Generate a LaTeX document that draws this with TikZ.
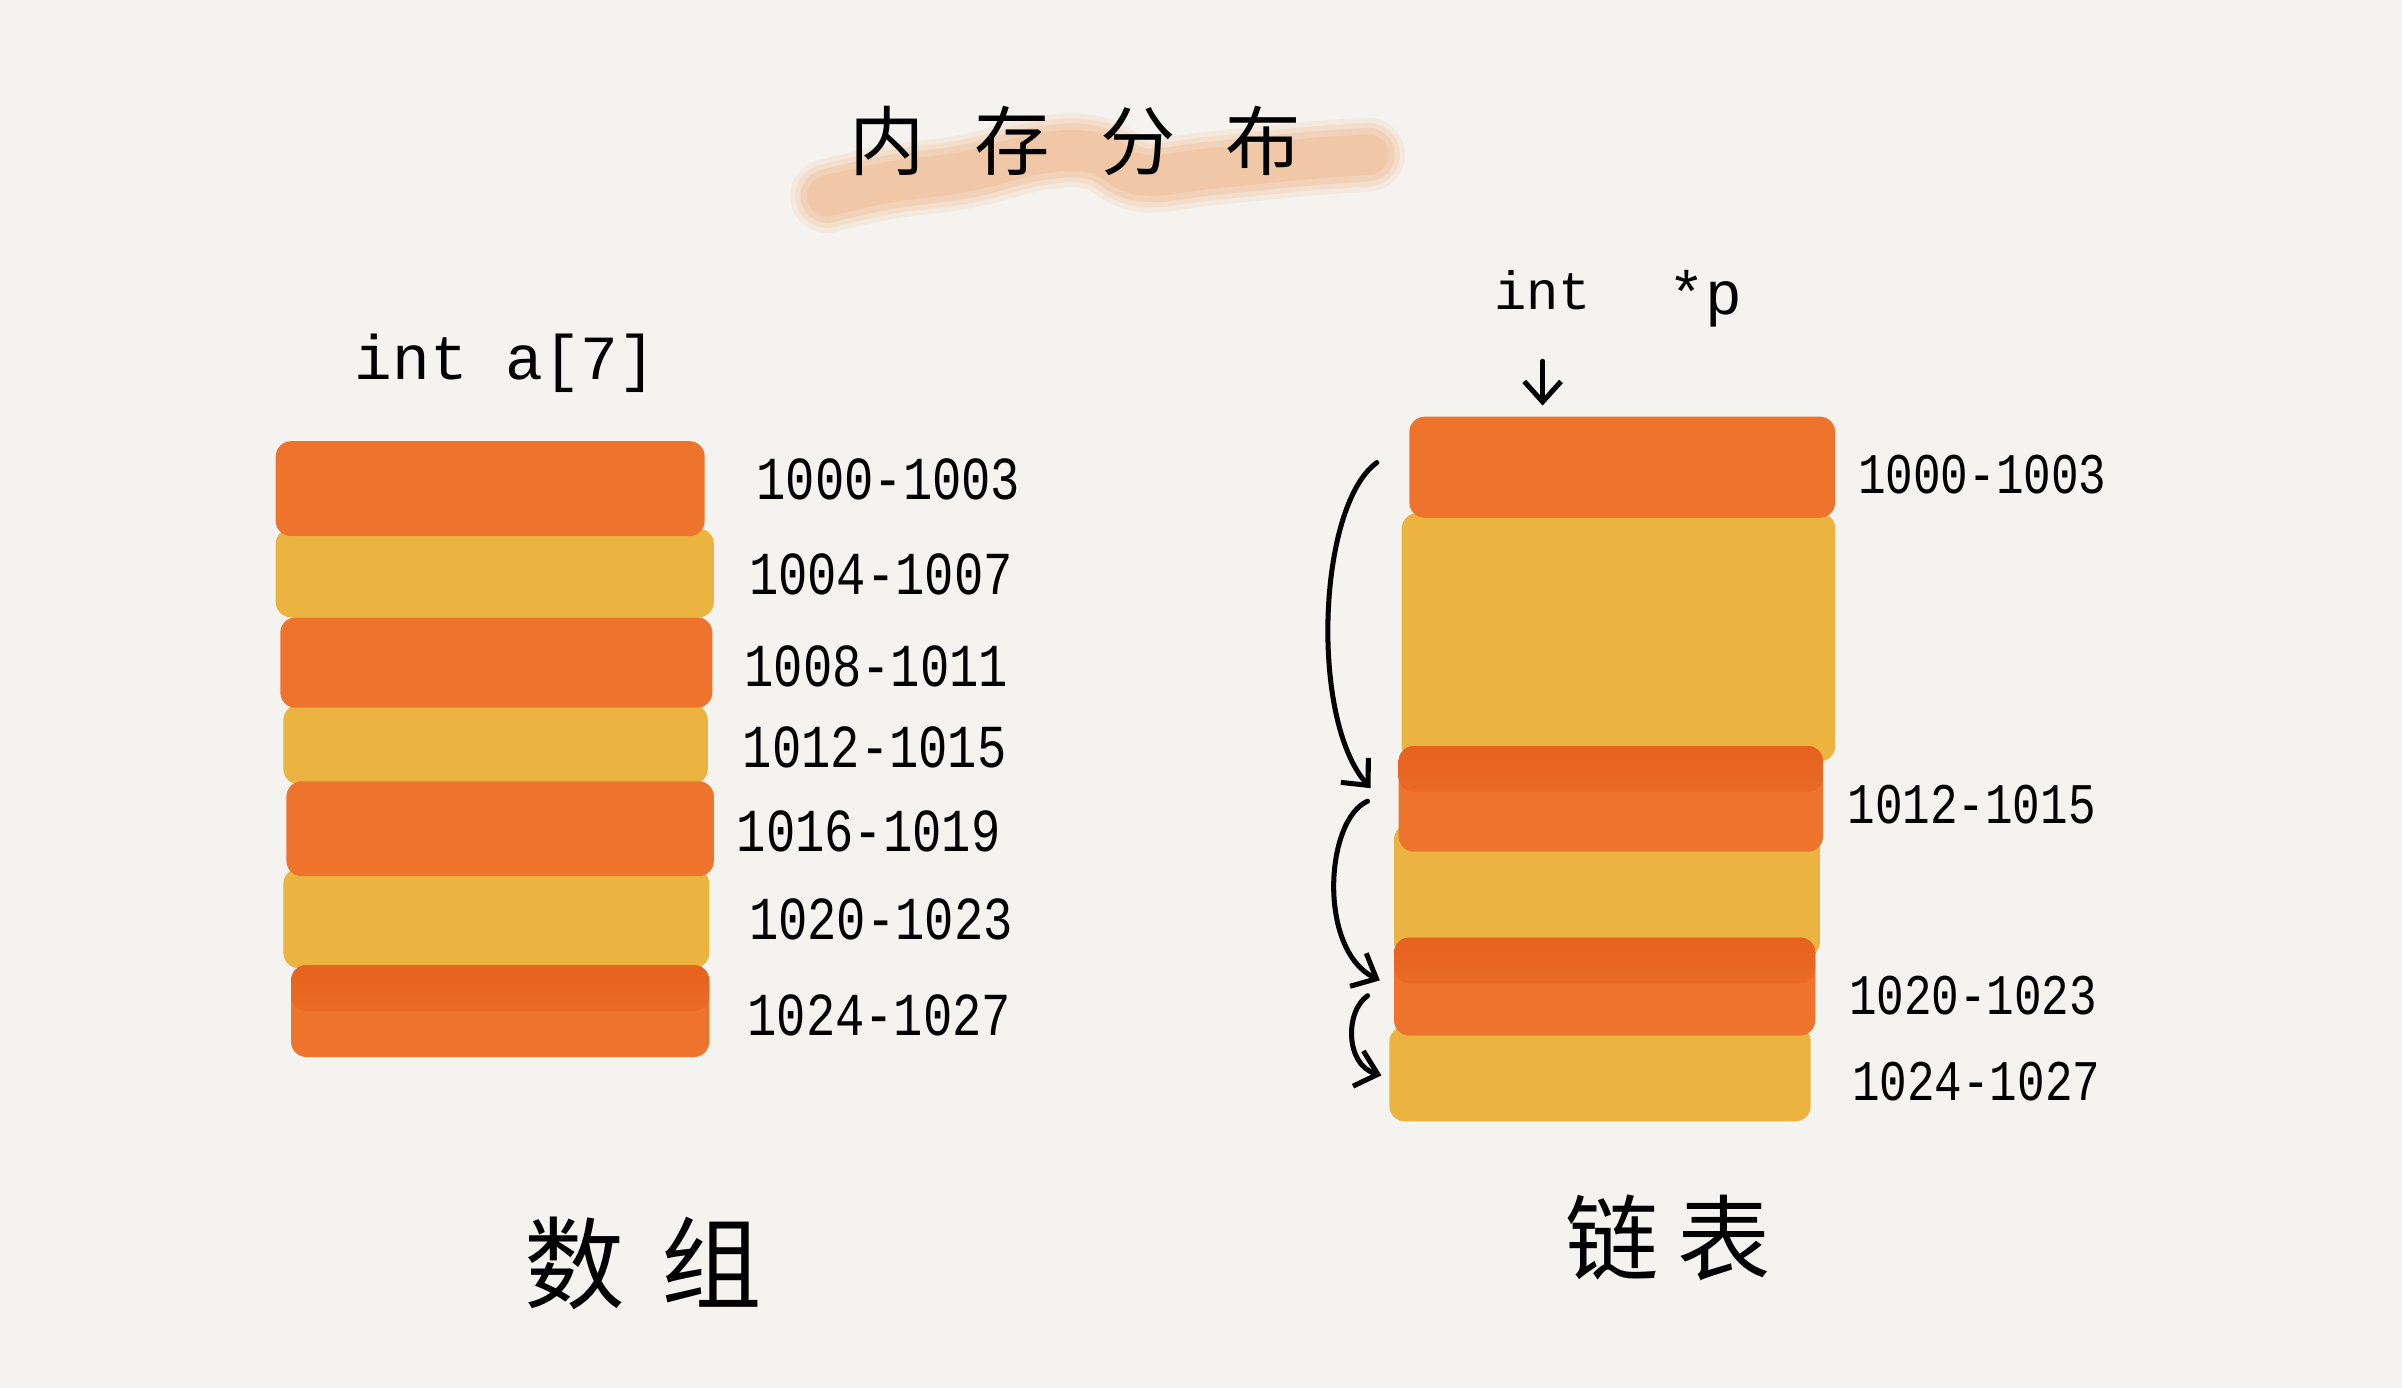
\documentclass[tikz,border=0pt]{standalone}
\usepackage{fontspec}
\usetikzlibrary{arrows.meta}
\newfontfamily\cjk{Noto Sans CJK SC}
\newfontfamily\hand[FakeStretch=0.8]{Liberation Mono}
\newfontfamily\handn{Liberation Mono}
\definecolor{bg}{HTML}{F5F3EF}
\definecolor{orbar}{HTML}{EE732D}
\definecolor{yebar}{HTML}{EBB441}
\definecolor{ordark}{HTML}{E6621F}
\definecolor{peach}{HTML}{F0BE96}
\begin{document}
\begin{tikzpicture}[x=0.03cm, y=-0.03cm,
  bar/.style={rectangle, rounded corners=0.3cm, inner sep=0pt},
  obar/.style={bar, fill=orbar},
  ybar/.style={bar, fill=yebar},
  topshade/.style={path picture={\shade[top color=ordark, bottom color=orbar]
      (path picture bounding box.north west) rectangle ([yshift=-0.9cm]path picture bounding box.north east);}},
  addrl/.style={font=\hand\fontsize{34}{36}\selectfont, inner sep=0pt},
  addrr/.style={font=\hand\fontsize{32}{34}\selectfont, inner sep=0pt},
  code/.style={font=\handn\fontsize{35}{38}\selectfont, inner sep=0pt, anchor=base},
  title/.style={font=\cjk\fontsize{42}{46}\selectfont, inner sep=0pt},
  caption/.style={font=\cjk\fontsize{56}{60}\selectfont, inner sep=0pt},
  link/.style={line width=2.8pt, line cap=round, -{Straight Barb[length=0.4cm, width=0.72cm, line width=2.8pt]}},
  brush/.style={line cap=round, line join=round, draw=peach}
]
\fill[bg] (0,0) rectangle (1568,906);
\useasboundingbox (0,0) rectangle (1568,906);

% brush stroke under the title
\foreach \w/\o in {1.45cm/0.18, 1.25cm/0.25, 1.05cm/0.35, 0.8cm/0.45}{
  \draw[brush, line width=\w, opacity=\o] plot[smooth, tension=0.7] coordinates
    {(540,128) (580,119) (630,112) (680,100) (715,100) (745,114) (790,110) (850,104) (893,101)};
}

\node[title] (ttl) at (702,92) {内\hspace{0.98cm}存\hspace{0.98cm}分\hspace{0.98cm}布};

% ---------- array ----------
\node[code] (arr) at (330,248) {int a[7]};

\node[ybar, minimum width=8.58cm, minimum height=1.74cm] (l2) at (323,374) {};
\node[ybar, minimum width=8.31cm, minimum height=1.56cm] (l4) at (323.5,486) {};
\node[ybar, minimum width=8.34cm, minimum height=1.95cm] (l6) at (324,599.5) {};
\node[obar, minimum width=8.40cm, minimum height=1.86cm] (l1) at (320,319) {};
\node[obar, minimum width=8.46cm, minimum height=1.77cm] (l3) at (324,432.5) {};
\node[obar, minimum width=8.37cm, minimum height=1.86cm] (l5) at (326.5,541) {};
\node[obar, topshade, minimum width=8.19cm, minimum height=1.80cm] (l7) at (326.5,660) {};

\node[addrl] (a1) at (580,313) {1000-1003};
\node[addrl] (a2) at (575,375) {1004-1007};
\node[addrl] (a3) at (572,435) {1008-1011};
\node[addrl] (a4) at (571,488) {1012-1015};
\node[addrl] (a5) at (567,543) {1016-1019};
\node[addrl] (a6) at (575,600) {1020-1023};
\node[addrl] (a7) at (574,663) {1024-1027};

\node[caption] (cap1) at (420,825) {数\hspace{0.72cm}组};

% ---------- linked list ----------
\node[code, font=\handn\fontsize{30}{32}\selectfont] (int) at (1007,202) {int};
\node[code, font=\handn\fontsize{34}{36}\selectfont] (ptr) at (1113,205) {*p};

\node[ybar, minimum width=8.49cm, minimum height=4.86cm] (r2) at (1056.5,416) {};
\node[ybar, minimum width=8.34cm, minimum height=2.61cm] (r4) at (1049,581.5) {};
\node[ybar, minimum width=8.25cm, minimum height=1.86cm] (r6) at (1044.5,701) {};
\node[obar, minimum width=8.34cm, minimum height=1.98cm] (r1) at (1059,305) {};
\node[obar, topshade, minimum width=8.31cm, minimum height=2.07cm] (r3) at (1051.5,521.5) {};
\node[obar, topshade, minimum width=8.25cm, minimum height=1.92cm] (r5) at (1047.5,644) {};

\node[addrr] (b1) at (1294,310) {1000-1003};
\node[addrr] (b2) at (1287,525) {1012-1015};
\node[addrr] (b3) at (1288,650) {1020-1023};
\node[addrr] (b4) at (1290,706) {1024-1027};

\draw[link] ([yshift=-1.0cm]int.south) -- ([yshift=0.21cm]r1.north -| int.south);

\draw[link] ([shift={(-21,-3)}]r1.west) .. controls (860,330) and (855,470) .. ([shift={(-18,-7)}]r3.west);
\draw[link] ([shift={(-20,1.5)}]r3.west) .. controls (865,535) and (860,620) .. ([shift={(-9,-4)}]r5.west);
\draw[link] ([shift={(-17,6)}]r5.west) .. controls (878,660) and (878,695) .. ([shift={(-5,1)}]r6.west);

\node[caption, font=\cjk\fontsize{52}{56}\selectfont] (cap2) at (1089,808) {链\hspace{0.36cm}表};
\end{tikzpicture}
\end{document}
